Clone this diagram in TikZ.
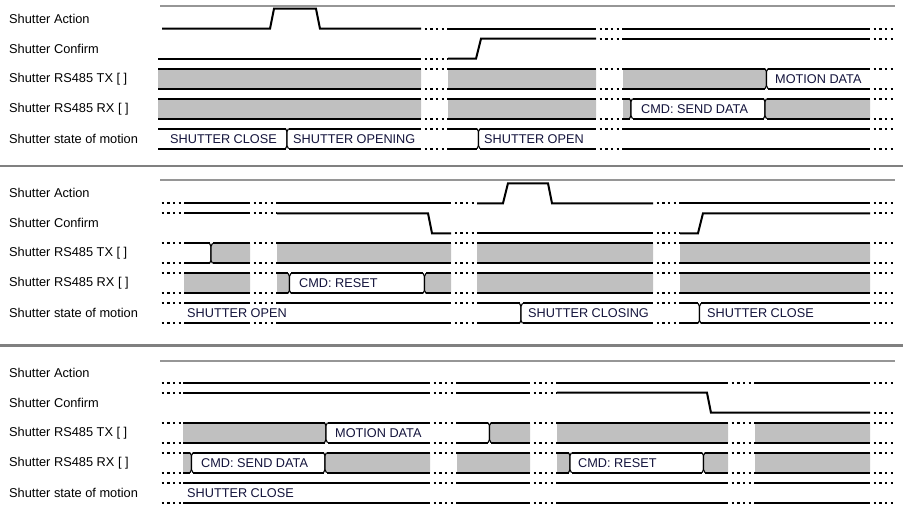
\documentclass[tikz,border=0pt]{standalone}
\usepackage{fontspec}
\setmainfont{Liberation Sans}
\definecolor{busgrey}{RGB}{192,192,192}
\definecolor{rulegrey}{RGB}{128,128,128}
\definecolor{thingrey}{RGB}{150,150,150}
\definecolor{bustxt}{RGB}{20,20,60}
\tikzset{
  sig/.style={line width=2pt,black},
  gapdots/.style={line width=2pt,black,dash pattern=on 2.4pt off 3.3pt},
  tredge/.style={line width=1.1pt,black},
  lbl/.style={anchor=west,inner sep=0pt,font=\fontsize{12.8}{14}\selectfont,text=black},
  bustext/.style={anchor=west,inner sep=0pt,font=\fontsize{12.7}{14}\selectfont,text=bustxt},
  sepline/.style={line width=2.7pt,rulegrey},
  panelline/.style={line width=1.2pt,thingrey},
}
% dotted gap on one level
\newcommand\gp[3]{\draw[gapdots] (#1+3.5,#3) -- (#2-0.5,#3);}
% dotted gap on both bus levels
\newcommand\gpb[3]{\gp{#1}{#2}{#3-10}\gp{#1}{#2}{#3+10}}
% bus segment: x0 x1 ycentre fill lefttransition righttransition
\newcommand\bseg[6]{%
  \def\bsL{0}\def\bsR{0}%
  \ifnum#5=1 \def\bsL{1.5}\fi
  \ifnum#6=1 \def\bsR{1.5}\fi
  \fill[#4] (#1+\bsL,#3-10) -- (#2-\bsR,#3-10) -- (#2,#3-10+2*\bsR) -- (#2,#3+10-2*\bsR) -- (#2-\bsR,#3+10) -- (#1+\bsL,#3+10) -- (#1,#3+10-2*\bsL) -- (#1,#3-10+2*\bsL) -- cycle;
  \draw[sig] (#1+\bsL,#3-10) -- (#2-\bsR,#3-10);
  \draw[sig] (#1+\bsL,#3+10) -- (#2-\bsR,#3+10);
  \ifnum#5=1 \draw[tredge] (#1+\bsL,#3-10) -- (#1,#3-7) -- (#1,#3+7) -- (#1+\bsL,#3+10);\fi
  \ifnum#6=1 \draw[tredge] (#2-\bsR,#3-10) -- (#2,#3-7) -- (#2,#3+7) -- (#2-\bsR,#3+10);\fi
}
\begin{document}
\begin{tikzpicture}[x=1pt,y=-1pt]
\useasboundingbox (0,0) rectangle (903,518);
\fill[white] (0,0) rectangle (903,518);

% separators and panel lines
\draw[sepline] (0,166) -- (903,166);
\draw[sepline] (0,345.5) -- (903,345.5);
\draw[panelline] (160,6) -- (895,6);
\draw[panelline] (160,180) -- (895,180);
\draw[panelline] (160,361) -- (895,361);

% ---------- left labels ----------
\foreach \p/\b in {1/18.7,2/193.3,3/372.7}{
  \node[lbl] (act\p) at (9,\b) {Shutter Action};
  \node[lbl] (conf\p) at (9,\b+30) {Shutter Confirm};
  \node[lbl] (tx\p) at (9,\b+60) {Shutter RS485 TX [ ]};
  \node[lbl] (rx\p) at (9,\b+90) {Shutter RS485 RX [ ]};
  \begin{scope}
    \clip (0,\b+108) rectangle (138.5,\b+132);
    \node[lbl] (st\p) at (9,\b+120) {Shutter state of motion};
  \end{scope}
}

% ================= PANEL 1 =================
% Action
\draw[sig] (162,28.7) -- (270,28.7) -- (274,8.7) -- (316,8.7) -- (320,28.7) -- (421,28.7);
\gp{421}{448}{28.7}
\draw[sig] (448,28.7) -- (596,28.7);
\gp{596}{623}{28.7}
\draw[sig] (623,28.7) -- (870,28.7);
\gp{870}{893}{28.7}
% Confirm
\draw[sig] (158,58.7) -- (421,58.7);
\gp{421}{448}{58.7}
\draw[sig] (448,58.7) -- (476,58.7) -- (481,38.7) -- (596,38.7);
\gp{596}{623}{38.7}
\draw[sig] (623,38.7) -- (870,38.7);
\gp{870}{893}{38.7}
% TX
\bseg{158}{421}{78.7}{busgrey}{0}{0}
\gpb{421}{448}{78.7}
\bseg{448}{596}{78.7}{busgrey}{0}{0}
\gpb{596}{623}{78.7}
\bseg{623}{766.5}{78.7}{busgrey}{0}{1}
\bseg{766.5}{870}{78.7}{white}{1}{0}
\gpb{870}{893}{78.7}
% RX
\bseg{158}{421}{108.7}{busgrey}{0}{0}
\gpb{421}{448}{108.7}
\bseg{448}{596}{108.7}{busgrey}{0}{0}
\gpb{596}{623}{108.7}
\bseg{623}{631}{108.7}{busgrey}{0}{1}
\bseg{631}{765}{108.7}{white}{1}{1}
\bseg{765}{870}{108.7}{busgrey}{1}{0}
\gpb{870}{893}{108.7}
% State
\bseg{158}{287}{138.7}{white}{0}{1}
\bseg{287}{421}{138.7}{white}{1}{0}
\gpb{421}{448}{138.7}
\bseg{448}{478.5}{138.7}{white}{0}{1}
\bseg{478.5}{596}{138.7}{white}{1}{0}
\gpb{596}{623}{138.7}
\bseg{623}{870}{138.7}{white}{0}{0}
\gpb{870}{893}{138.7}

% ================= PANEL 2 =================
% Action
\gp{158}{184}{203.3}
\draw[sig] (184,203.3) -- (250,203.3);
\gp{250}{277}{203.3}
\draw[sig] (277,203.3) -- (451,203.3);
\gp{451}{477}{203.3}
\draw[sig] (477,203.3) -- (503,203.3) -- (508,183.3) -- (548,183.3) -- (552,203.3) -- (653,203.3);
\gp{653}{680}{203.3}
\draw[sig] (680,203.3) -- (870,203.3);
\gp{870}{893}{203.3}
% Confirm
\gp{158}{184}{213.3}
\draw[sig] (184,213.3) -- (250,213.3);
\gp{250}{277}{213.3}
\draw[sig] (277,213.3) -- (428,213.3) -- (432,233.3) -- (451,233.3);
\gp{451}{477}{233.3}
\draw[sig] (477,233.3) -- (653,233.3);
\gp{653}{680}{233.3}
\draw[sig] (680,233.3) -- (698,233.3) -- (703,213.3) -- (870,213.3);
\gp{870}{893}{213.3}
% TX
\gpb{158}{184}{253.3}
\bseg{184}{211}{253.3}{white}{0}{1}
\bseg{211}{250}{253.3}{busgrey}{1}{0}
\gpb{250}{277}{253.3}
\bseg{277}{451}{253.3}{busgrey}{0}{0}
\gpb{451}{477}{253.3}
\bseg{477}{653}{253.3}{busgrey}{0}{0}
\gpb{653}{680}{253.3}
\bseg{680}{870}{253.3}{busgrey}{0}{0}
\gpb{870}{893}{253.3}
% RX
\gpb{158}{184}{283.3}
\bseg{184}{250}{283.3}{busgrey}{0}{0}
\gpb{250}{277}{283.3}
\bseg{277}{289.5}{283.3}{busgrey}{0}{1}
\bseg{289.5}{424.5}{283.3}{white}{1}{1}
\bseg{424.5}{451}{283.3}{busgrey}{1}{0}
\gpb{451}{477}{283.3}
\bseg{477}{653}{283.3}{busgrey}{0}{0}
\gpb{653}{680}{283.3}
\bseg{680}{870}{283.3}{busgrey}{0}{0}
\gpb{870}{893}{283.3}
% State
\gpb{158}{184}{313.3}
\bseg{184}{250}{313.3}{white}{0}{0}
\gpb{250}{277}{313.3}
\bseg{277}{451}{313.3}{white}{0}{0}
\gpb{451}{477}{313.3}
\bseg{477}{521}{313.3}{white}{0}{1}
\bseg{521}{653}{313.3}{white}{1}{0}
\gpb{653}{680}{313.3}
\bseg{680}{699.5}{313.3}{white}{0}{1}
\bseg{699.5}{870}{313.3}{white}{1}{0}
\gpb{870}{893}{313.3}

% ================= PANEL 3 =================
% Action
\gp{158}{183}{382.7}
\draw[sig] (183,382.7) -- (430,382.7);
\gp{430}{457}{382.7}
\draw[sig] (457,382.7) -- (530,382.7);
\gp{530}{557}{382.7}
\draw[sig] (557,382.7) -- (728,382.7);
\gp{728}{755}{382.7}
\draw[sig] (755,382.7) -- (870,382.7);
\gp{870}{893}{382.7}
% Confirm
\gp{158}{183}{392.7}
\draw[sig] (183,392.7) -- (430,392.7);
\gp{430}{457}{392.7}
\draw[sig] (457,392.7) -- (530,392.7);
\gp{530}{557}{392.7}
\draw[sig] (557,392.7) -- (707,392.7) -- (711,412.7) -- (870,412.7);
\gp{870}{893}{412.7}
% TX
\gpb{158}{183}{432.7}
\bseg{183}{326}{432.7}{busgrey}{0}{1}
\bseg{326}{430}{432.7}{white}{1}{0}
\gpb{430}{457}{432.7}
\bseg{457}{489.5}{432.7}{white}{0}{1}
\bseg{489.5}{530}{432.7}{busgrey}{1}{0}
\gpb{530}{557}{432.7}
\bseg{557}{728}{432.7}{busgrey}{0}{0}
\gpb{728}{755}{432.7}
\bseg{755}{870}{432.7}{busgrey}{0}{0}
\gpb{870}{893}{432.7}
% RX
\gpb{158}{183}{462.7}
\bseg{183}{191.5}{462.7}{busgrey}{0}{1}
\bseg{191.5}{325}{462.7}{white}{1}{1}
\bseg{325}{430}{462.7}{busgrey}{1}{0}
\gpb{430}{457}{462.7}
\bseg{457}{530}{462.7}{busgrey}{0}{0}
\gpb{530}{557}{462.7}
\bseg{557}{570}{462.7}{busgrey}{0}{1}
\bseg{570}{703.5}{462.7}{white}{1}{1}
\bseg{703.5}{728}{462.7}{busgrey}{1}{0}
\gpb{728}{755}{462.7}
\bseg{755}{870}{462.7}{busgrey}{0}{0}
\gpb{870}{893}{462.7}
% State
\gpb{158}{183}{492.7}
\bseg{183}{430}{492.7}{white}{0}{0}
\gpb{430}{457}{492.7}
\bseg{457}{530}{492.7}{white}{0}{0}
\gpb{530}{557}{492.7}
\bseg{557}{728}{492.7}{white}{0}{0}
\gpb{728}{755}{492.7}
\bseg{755}{870}{492.7}{white}{0}{0}
\gpb{870}{893}{492.7}

% ---------- bus texts (drawn last) ----------
\node[bustext] (t1a) at (775,78.7) {MOTION DATA};
\node[bustext] (r1a) at (641,108.7) {CMD: SEND DATA};
\node[bustext] (s1a) at (170,138.7) {SHUTTER CLOSE};
\node[bustext] (s1b) at (293,138.7) {SHUTTER OPENING};
\node[bustext] (s1c) at (484,138.7) {SHUTTER OPEN};
\node[bustext] (r2a) at (299,283.3) {CMD: RESET};
\node[bustext] (s2a) at (187,313.3) {SHUTTER OPEN};
\node[bustext] (s2b) at (528,313.3) {SHUTTER CLOSING};
\node[bustext] (s2c) at (707,313.3) {SHUTTER CLOSE};
\node[bustext] (t3a) at (335,432.7) {MOTION DATA};
\node[bustext] (r3a) at (201,462.7) {CMD: SEND DATA};
\node[bustext] (r3b) at (578,462.7) {CMD: RESET};
\node[bustext] (s3a) at (187,492.7) {SHUTTER CLOSE};
\end{tikzpicture}
\end{document}
